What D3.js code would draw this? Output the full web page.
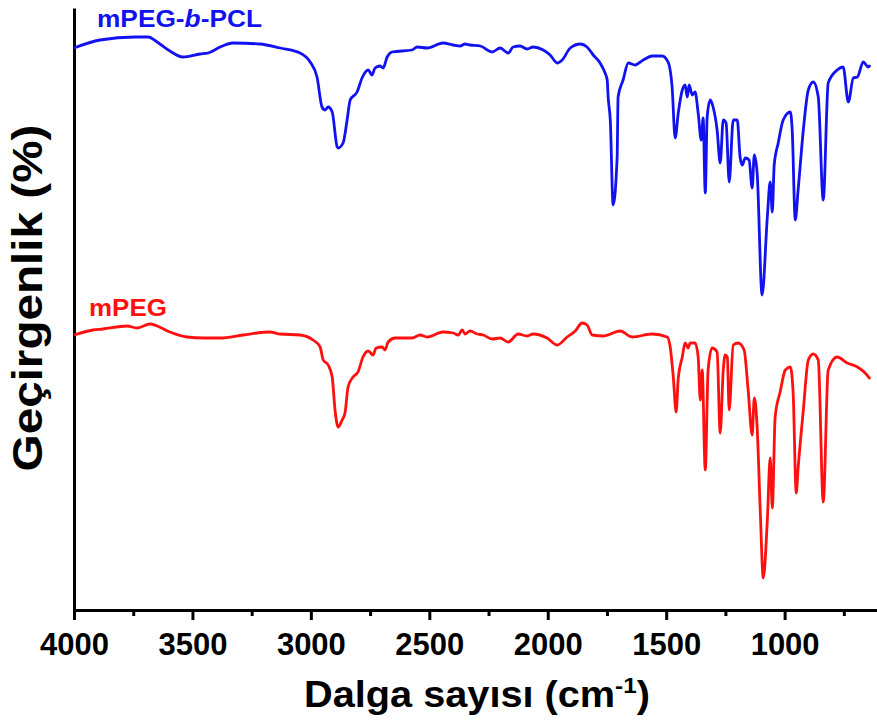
<!DOCTYPE html>
<html>
<head>
<meta charset="utf-8">
<script src="https://cdn.jsdelivr.net/npm/d3@7"></script>
<style>
  body { margin: 0; background: #fff; }
  svg { display: block; font-family: Arial, "Liberation Sans", sans-serif; }
</style>
</head>
<body>
<div id="chart"></div>
<script>
// mPEG-b-PCL spectrum (wavenumber in cm-1, transmittance in a.u., offset upward)
const pclWavenumber = [4000, 3890, 3742, 3687, 3649, 3595, 3540, 3468, 3434, 3383, 3329, 3215, 3130, 3046, 3003, 2974, 2953, 2940, 2927, 2910,
  2889, 2885, 2864, 2847, 2834, 2805, 2784, 2758, 2742, 2729, 2708, 2695, 2678, 2657, 2573, 2551, 2509, 2442, 2399, 2370,
  2349, 2328, 2285, 2235, 2201, 2167, 2146, 2117, 2087, 2062, 2019, 1990, 1960, 1939, 1905, 1863, 1834, 1808, 1779, 1758,
  1749, 1745, 1736, 1724, 1707, 1703, 1682, 1660, 1631, 1597, 1559, 1517, 1492, 1475, 1462, 1449, 1432, 1420, 1411, 1403,
  1390, 1378, 1365, 1352, 1344, 1335, 1327, 1314, 1302, 1285, 1272, 1259, 1247, 1234, 1217, 1200, 1188, 1179, 1166, 1150,
  1137, 1128, 1116, 1095, 1073, 1061, 1052, 1044, 1027, 1006, 976, 968, 955, 943, 921, 900, 879, 858, 837, 816,
  778, 753, 731, 710, 693, 668, 647, 639];
const pclTransmittance = [562, 570, 573, 573, 568, 559, 553, 556, 557, 563, 567, 566, 562, 557, 548, 533, 503, 500, 503, 498,
  463, 462, 467, 490, 510, 518, 532, 540, 535, 542, 544, 542, 553, 558, 560, 563, 562, 567, 565, 564,
  566, 565, 564, 558, 562, 557, 563, 564, 561, 563, 560, 555, 547, 550, 562, 566, 563, 555, 547, 537,
  530, 513, 490, 405, 453, 513, 530, 547, 545, 550, 554, 554, 548, 523, 472, 497, 520, 525, 513, 525,
  515, 518, 497, 470, 492, 417, 493, 510, 503, 480, 447, 490, 487, 428, 490, 490, 453, 445, 452, 450,
  422, 455, 437, 315, 393, 428, 398, 445, 467, 490, 498, 480, 390, 420, 480, 520, 528, 513, 410, 527,
  540, 543, 508, 532, 533, 548, 543, 545];

// mPEG spectrum
const pegWavenumber = [4000, 3920, 3878, 3776, 3734, 3679, 3649, 3595, 3523, 3455, 3383, 3286, 3172, 3130, 3046, 2991, 2961, 2948, 2927, 2910,
  2898, 2885, 2868, 2856, 2843, 2822, 2801, 2780, 2758, 2737, 2725, 2699, 2687, 2674, 2644, 2573, 2539, 2509, 2442, 2399,
  2378, 2361, 2349, 2328, 2298, 2273, 2235, 2201, 2167, 2125, 2087, 2062, 2003, 1960, 1918, 1884, 1855, 1834, 1812, 1766,
  1694, 1644, 1559, 1496, 1483, 1470, 1458, 1449, 1432, 1420, 1407, 1399, 1378, 1365, 1356, 1348, 1335, 1323, 1306, 1285,
  1272, 1259, 1251, 1242, 1234, 1217, 1196, 1171, 1154, 1137, 1128, 1116, 1103, 1090, 1073, 1061, 1052, 1040, 1019, 997,
  976, 964, 951, 943, 921, 900, 879, 858, 837, 816, 778, 736, 693, 660, 639];
const pegTransmittance = [275, 280, 281, 284, 282, 286, 284, 278, 273, 272, 272, 275, 278, 276, 275, 270, 263, 250, 245, 233,
  200, 183, 190, 197, 223, 233, 238, 253, 259, 255, 262, 263, 260, 268, 272, 272, 275, 273, 278, 277,
  275, 280, 276, 279, 276, 275, 271, 272, 268, 276, 274, 276, 272, 265, 273, 279, 287, 285, 275, 274,
  279, 273, 276, 273, 263, 233, 198, 232, 253, 267, 262, 267, 267, 253, 210, 240, 140, 240, 262, 258,
  177, 240, 255, 253, 200, 265, 267, 260, 220, 175, 212, 183, 100, 32, 90, 152, 102, 193, 218, 240,
  243, 217, 117, 142, 200, 250, 256, 250, 108, 240, 253, 247, 243, 237, 231];

const seriesColors = ["#1212f0", "#ff1010"];
const majorTicks = [4000, 3500, 3000, 2500, 2000, 1500, 1000];
const minorTicks = [3750, 3250, 2750, 2250, 1750, 1250, 750];

// stretch a text element horizontally so it covers the wanted width
function fitWidth(sel, target, base) {
  const w = sel.node().getBBox().width;
  sel.attr("transform", base + " scale(" + (target / w) + ",1)");
}

class FtirChart {
  constructor(_config) {
    this.config = {
      parentElement: _config.parentElement,
      containerWidth: _config.containerWidth || 877,
      containerHeight: _config.containerHeight || 722,
      margin: _config.margin || { top: 8, right: 0, bottom: 112, left: 74 },
    };
    this.initVis();
    this.updateVis();
  }

  initVis() {
    let vis = this;
    vis.width = vis.config.containerWidth - vis.config.margin.left - vis.config.margin.right;
    vis.height = vis.config.containerHeight - vis.config.margin.top - vis.config.margin.bottom;

    vis.svg = d3.select(vis.config.parentElement)
      .append("svg")
      .attr("width", vis.config.containerWidth)
      .attr("height", vis.config.containerHeight);

    vis.g = vis.svg.append("g")
      .attr("transform", "translate(" + vis.config.margin.left + "," + vis.config.margin.top + ")");

    vis.xScale = d3.scaleLinear().domain([4000, 610]).range([0, vis.width]);
    vis.yScale = d3.scaleLinear().domain([0, 602]).range([vis.height, 0]);

    // minor ticks first, then major ticks + labels
    vis.g.append("g")
      .attr("transform", "translate(0," + vis.height + ")")
      .call(d3.axisBottom(vis.xScale).tickValues(minorTicks).tickSize(6).tickSizeOuter(0).tickFormat(""))
      .call(g => g.selectAll("line").attr("stroke-width", 3))
      .call(g => g.select(".domain").remove());

    vis.xAxisG = vis.g.append("g")
      .attr("transform", "translate(0," + vis.height + ")")
      .call(d3.axisBottom(vis.xScale).tickValues(majorTicks).tickSize(10).tickSizeOuter(0).tickPadding(13).tickFormat(d3.format("d")));
    vis.xAxisG.select(".domain").attr("stroke-width", 3);
    vis.xAxisG.selectAll("line").attr("stroke-width", 3);
    vis.xAxisG.selectAll("text")
      .attr("font-size", 31)
      .attr("font-weight", "bold")
      .attr("fill", "#000");

    vis.g.append("g")
      .call(d3.axisLeft(vis.yScale).tickValues([]).tickSizeOuter(0))
      .call(g => g.select(".domain").attr("stroke-width", 3));

    // axis titles
    const xt = vis.svg.append("text")
      .attr("text-anchor", "middle")
      .attr("font-size", 36)
      .attr("font-weight", "bold");
    xt.append("tspan").text("Dalga sayısı (cm");
    xt.append("tspan").attr("font-size", 22).attr("dy", -14).text("-1");
    xt.append("tspan").attr("dy", 14).text(")");
    fitWidth(xt, 346, "translate(477,707)");

    const yt = vis.svg.append("text")
      .attr("text-anchor", "middle")
      .attr("font-size", 42)
      .attr("font-weight", "bold")
      .text("Geçirgenlik (%)");
    fitWidth(yt, 347, "translate(42,298) rotate(-90)");
  }

  updateVis() {
    let vis = this;
    vis.series = [
      { name: "mPEG-b-PCL", values: d3.zip(pclWavenumber, pclTransmittance), color: seriesColors[0] },
      { name: "mPEG", values: d3.zip(pegWavenumber, pegTransmittance), color: seriesColors[1] },
    ];

    vis.line = d3.line()
      .curve(d3.curveMonotoneX)
      .x(d => vis.xScale(d[0]))
      .y(d => vis.yScale(d[1]));

    vis.g.selectAll(".spectrum")
      .data(vis.series)
      .join("path")
      .attr("class", "spectrum")
      .attr("fill", "none")
      .attr("stroke", d => d.color)
      .attr("stroke-width", 2.8)
      .attr("stroke-linejoin", "round")
      .attr("d", d => vis.line(d.values));

    // labels
    const lb = vis.svg.append("text")
      .attr("font-size", 23)
      .attr("font-weight", "bold")
      .attr("fill", seriesColors[0]);
    lb.append("tspan").text("mPEG-");
    lb.append("tspan").attr("font-style", "italic").text("b");
    lb.append("tspan").text("-PCL");
    fitWidth(lb, 165, "translate(97,27)");

    const lr = vis.svg.append("text")
      .attr("font-size", 23)
      .attr("font-weight", "bold")
      .attr("fill", seriesColors[1])
      .text("mPEG");
    fitWidth(lr, 78, "translate(89,316)");
  }
}

new FtirChart({ parentElement: "#chart" });
</script>
</body>
</html>
